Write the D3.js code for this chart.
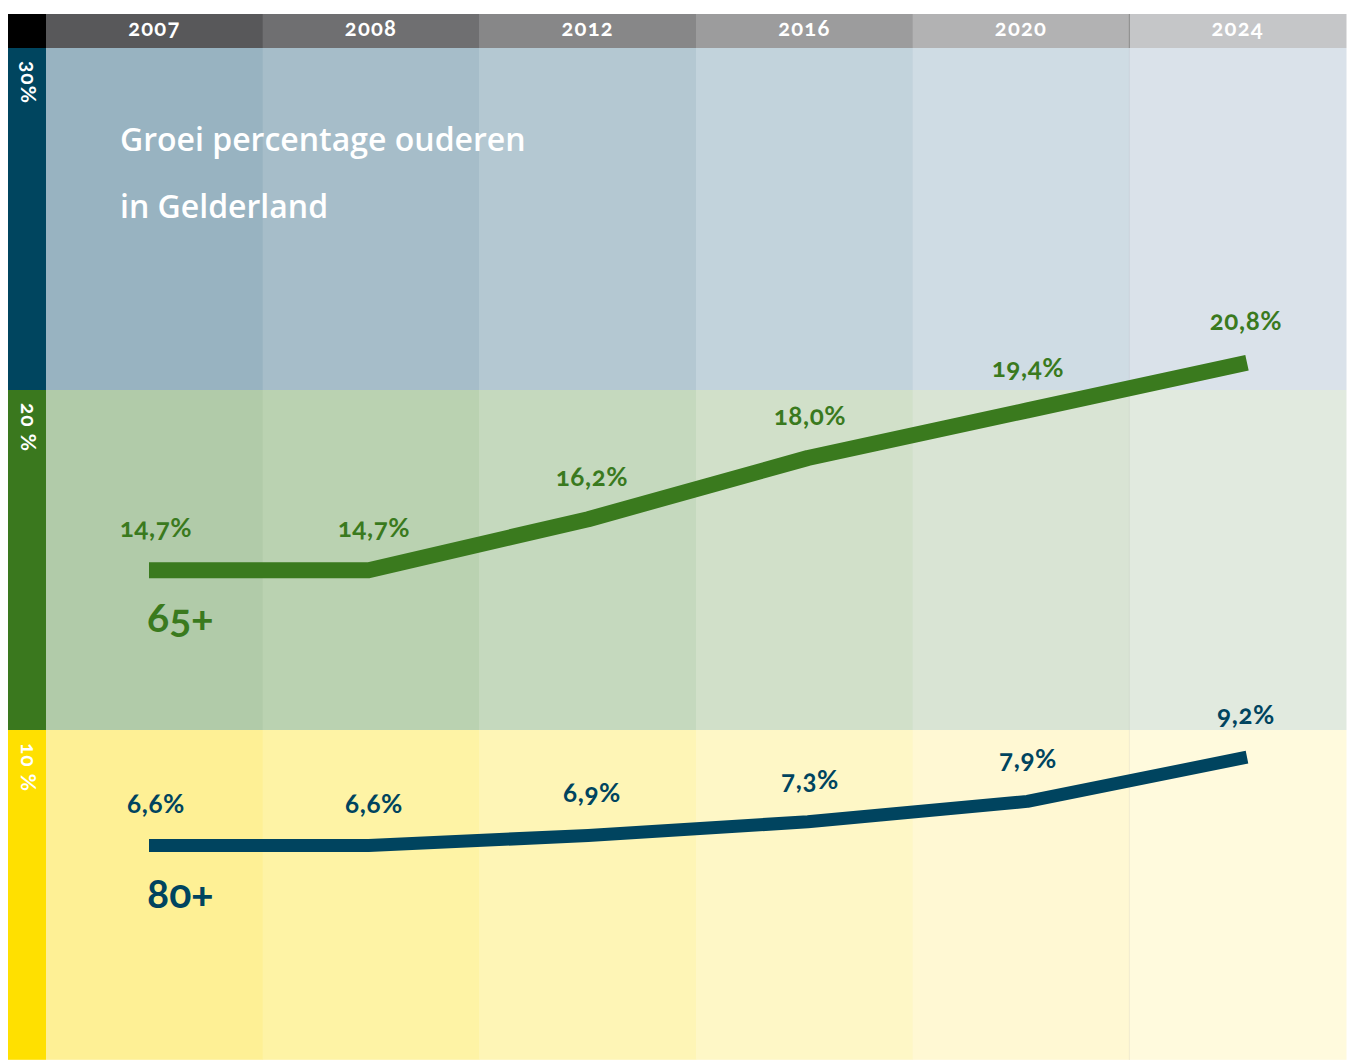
<!DOCTYPE html>
<html>
<head>
<meta charset="utf-8">
<script src="https://cdn.jsdelivr.net/npm/d3@7"></script>
<style>
  body { margin: 0; background: #fff; }
  text { font-family: Lato, "Open Sans", sans-serif; }
</style>
</head>
<body>
<div id="graph"></div>
<script>
let w = 1347;
let h = 1060;

// data
let years = ["2007", "2008", "2012", "2016", "2020", "2024"];
let pct65 = [14.7, 14.7, 16.2, 18.0, 19.4, 20.8];
let pct80 = [6.6, 6.6, 6.9, 7.3, 7.9, 9.2];
let bandTicks = [30, 20, 10];

// column colours, left to right
let headerColors = ["#58585a", "#6f6f71", "#878788", "#9c9c9d", "#b2b2b3", "#c5c6c8"];
let blueColors = ["#98b3c1", "#a6bdc9", "#b4c8d2", "#c2d3dc", "#cfdce4", "#dae2ea"];
let greenColors = ["#b1cba9", "#bad2b1", "#c5d9be", "#d1e0c9", "#d9e4d4", "#e1eadf"];
let yellowColors = ["#fef095", "#fef3a5", "#fef5b6", "#fef7c6", "#fff8d3", "#fffadd"];

let leftX = 46, rightX = 1346, topY = 14, headH = 34;

let viz = d3.select("#graph")
  .append("svg")
    .attr("width", w)
    .attr("height", h);

let colScale = d3.scaleBand().domain(years).range([leftX, rightX]);
let xScale = d3.scalePoint().domain(years).range([149, 1247]);
let labelScale = d3.scalePoint().domain(years).range([156, 1246]);
let yScale = d3.scaleLinear().domain([30, 0]).range([50, 1070]);

// background bands
let bands = [
  {top: 30, bottom: 20, colors: blueColors, axis: "#00455f", label: "30%"},
  {top: 20, bottom: 10, colors: greenColors, axis: "#3a781e", label: "20 %"},
  {top: 10, bottom: 0.3, colors: yellowColors, axis: "#ffe000", label: "10 %"}
];

bands.forEach(function(b, bi){
  let y0 = bi == 0 ? topY + headH : yScale(b.top);
  let y1 = yScale(b.bottom);
  viz.selectAll(".cell" + bi).data(years).enter()
    .append("rect")
      .attr("x", d => colScale(d))
      .attr("y", y0)
      .attr("width", colScale.bandwidth() + 0.5)
      .attr("height", y1 - y0)
      .attr("fill", (d, i) => b.colors[i]);

  viz.append("rect")
    .attr("x", 8).attr("y", y0)
    .attr("width", leftX - 8).attr("height", y1 - y0)
    .attr("fill", b.axis);

  viz.append("text")
    .attr("transform", "translate(21," + (y0 + 13) + ") rotate(90)")
    .attr("fill", "#fff")
    .attr("font-size", 21)
    .attr("font-weight", 700)
    .attr("letter-spacing", 1)
    .style("font-feature-settings", "'onum'")
    .text(b.label);
});

// header
viz.append("rect").attr("x", 8).attr("y", topY).attr("width", leftX - 8).attr("height", headH).attr("fill", "#000");
viz.selectAll(".head").data(years).enter()
  .append("rect")
    .attr("x", d => colScale(d))
    .attr("y", topY)
    .attr("width", colScale.bandwidth() + 0.5)
    .attr("height", headH)
    .attr("fill", (d, i) => headerColors[i]);

viz.selectAll(".headtext").data(years).enter()
  .append("text")
    .attr("x", d => colScale(d) + colScale.bandwidth() / 2)
    .attr("y", topY + 22)
    .attr("text-anchor", "middle")
    .attr("fill", "#fff")
    .attr("font-size", 22)
    .attr("font-weight", 700)
    .attr("letter-spacing", 1.2)
    .style("font-feature-settings", "'onum'")
    .text(d => d);

// thin divider before last column
let lastX = colScale("2024");
viz.append("line").attr("x1", lastX).attr("x2", lastX).attr("y1", topY).attr("y2", topY + headH)
  .attr("stroke", "#8a8a8a").attr("stroke-width", 1);
viz.append("line").attr("x1", lastX).attr("x2", lastX).attr("y1", topY + headH).attr("y2", h)
  .attr("stroke", "#000").attr("stroke-opacity", 0.06).attr("stroke-width", 1);

// title
viz.append("text").attr("x", 120).attr("y", 151)
  .attr("fill", "#fff").attr("font-size", 32).attr("font-weight", 600)
  .style("font-family", "'Open Sans', sans-serif")
  .text("Groei percentage ouderen");
viz.append("text").attr("x", 120).attr("y", 218)
  .attr("fill", "#fff").attr("font-size", 32).attr("font-weight", 600)
  .style("font-family", "'Open Sans', sans-serif")
  .text("in Gelderland");

// lines
let series = [
  {name: "65+", values: pct65, color: "#3a7a1e", width: 16},
  {name: "80+", values: pct80, color: "#00445f", width: 13}
];

let line = d3.line()
  .x((d, i) => xScale(years[i]))
  .y(d => yScale(d));

let fmt = d => d.toFixed(1).replace(".", ",") + "%";

series.forEach(function(s, si){
  viz.append("path")
    .datum(s.values)
    .attr("d", line)
    .attr("fill", "none")
    .attr("stroke", s.color)
    .attr("stroke-width", s.width)
    .attr("stroke-linejoin", "round");

  viz.selectAll(".lbl" + si).data(s.values).enter()
    .append("text")
      .attr("class", "lbl" + si)
      .attr("x", (d, i) => labelScale(years[i]))
      .attr("y", d => yScale(d) - 33)
      .attr("text-anchor", "middle")
      .attr("fill", s.color)
      .attr("font-size", 26)
      .attr("font-weight", 700)
      .attr("letter-spacing", 0.6)
      .style("font-feature-settings", "'onum'")
      .text(fmt);

  viz.append("text")
    .attr("x", 147)
    .attr("y", yScale(s.values[0]) + 62)
    .attr("fill", s.color)
    .attr("font-size", 41)
    .attr("font-weight", 700)
    .style("font-feature-settings", "'onum'")
    .text(s.name);
});
</script>
</body>
</html>
